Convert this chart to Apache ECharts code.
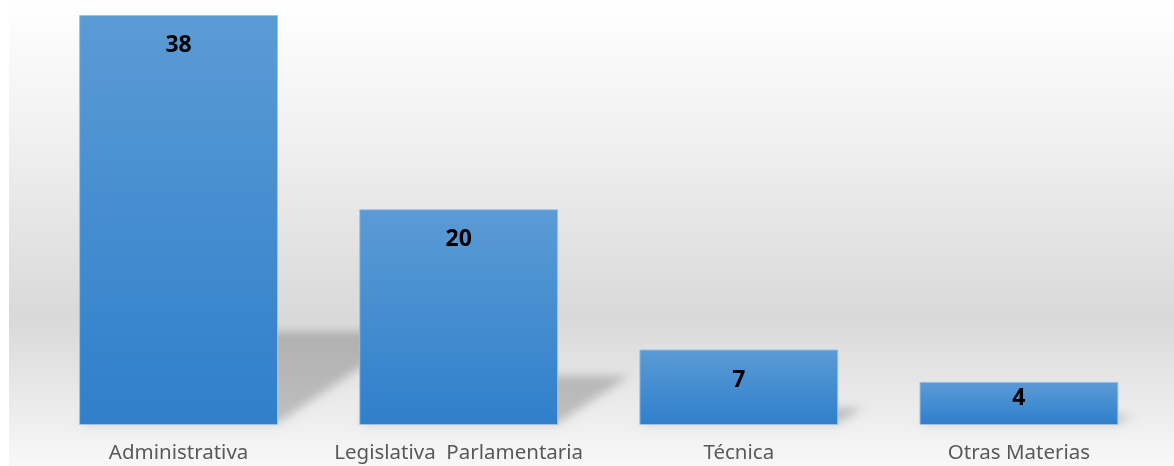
<!DOCTYPE html>
<html>
<head>
<meta charset="utf-8">
<script src="https://cdn.jsdelivr.net/npm/echarts@6/dist/echarts.min.js"></script>
<style>
  html, body { margin: 0; padding: 0; background: #fff; }
  #chart { width: 1174px; height: 466px; }
</style>
</head>
<body>
<div id="chart"></div>
<script>
var categories = ['Administrativa', 'Legislativa  Parlamentaria', 'Técnica', 'Otras Materias'];
var values = [38, 20, 7, 4];

var myChart = echarts.init(document.getElementById('chart'));

var OFF = 3000; // se dibuja fuera del lienzo y solo se ve la sombra difuminada

// sombra en perspectiva detras de cada barra
function renderShadow(params, api) {
  var base = api.coord([api.value(0), 0]);
  var top = api.coord([api.value(0), api.value(1)]);
  var w = api.size([1, 0])[0] * 0.71;
  var h = base[1] - top[1];
  var x0 = base[0] - w / 2 - OFF, x1 = base[0] + w / 2 - OFF;
  var dx = h * 0.33, dy = h * 0.228;
  return {
    type: 'polygon',
    shape: {
      points: [[x0, base[1] - 2], [x1, base[1] - 2], [x1 + dx, base[1] - dy], [x0 + dx, base[1] - dy]]
    },
    style: {
      fill: '#000',
      shadowBlur: 10,
      shadowOffsetX: OFF,
      shadowColor: 'rgba(0,0,0,0.2)'
    }
  };
}

var option = {
  animation: false,
  graphic: [{
    type: 'rect',
    left: 9, top: 0, z: -10,
    shape: { width: 1165, height: 466 },
    style: {
      fill: new echarts.graphic.LinearGradient(0, 0, 0, 1, [
        { offset: 0, color: '#ffffff' },
        { offset: 0.3, color: '#f0f0f0' },
        { offset: 0.68, color: '#d9d9d9' },
        { offset: 0.9, color: '#eeeeee' },
        { offset: 1, color: '#f8f8f8' }
      ])
    }
  }],
  grid: { left: 38.5, right: 15, top: 15, bottom: 41 },
  xAxis: {
    type: 'category',
    data: categories,
    axisLine: { show: false },
    axisTick: { show: false },
    axisLabel: {
      interval: 0,
      color: '#595959',
      fontFamily: 'Noto Sans',
      fontSize: 20.5,
      margin: 18
    }
  },
  yAxis: {
    type: 'value',
    min: 0, max: 38,
    show: false
  },
  series: [{
    type: 'custom',
    renderItem: renderShadow,
    data: values.map(function (v, i) { return [i, v]; }),
    z: 1,
    clip: false,
    silent: true
  }, {
    type: 'bar',
    data: values.map(function (v, i) {
      var d = { value: v };
      if (i === 3) d.label = { distance: 5 };
      return d;
    }),
    barWidth: '71%',
    z: 3,
    itemStyle: {
      color: new echarts.graphic.LinearGradient(0, 0, 0, 1, [
        { offset: 0, color: '#5b9bd5' },
        { offset: 1, color: '#2f7fcb' }
      ]),
      borderColor: '#9cc2e8',
      borderWidth: 1
    },
    label: {
      show: true,
      position: 'insideTop',
      distance: 19,
      color: '#000',
      fontFamily: 'Noto Sans',
      fontWeight: 'bold',
      fontSize: 23
    }
  }]
};

myChart.setOption(option);
</script>
</body>
</html>
